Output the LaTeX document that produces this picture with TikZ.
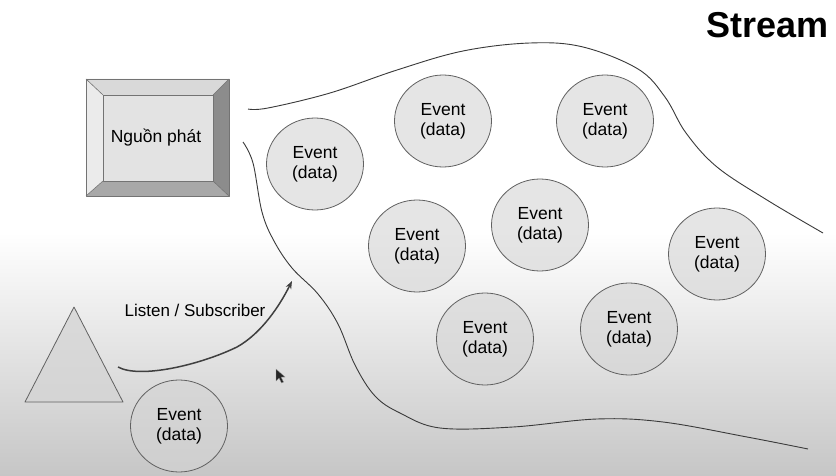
\documentclass[tikz,border=0pt]{standalone}
\usepackage{fontspec}
\setmainfont{Liberation Sans}
\usetikzlibrary{shapes.geometric,arrows.meta}
\definecolor{evfill}{HTML}{D4D4D4}
\definecolor{bgbot}{HTML}{C6C6C6}
\definecolor{bvtop}{HTML}{D9D9D9}
\definecolor{bvleft}{HTML}{EBEBEB}
\definecolor{bvright}{HTML}{8C8C8C}
\definecolor{bvbot}{HTML}{A8A8A8}
\definecolor{bvface}{HTML}{E3E3E3}
\definecolor{lnc}{HTML}{3A3A3A}
\begin{document}
\begin{tikzpicture}[x=1pt,y=-1pt,
  ev/.style={ellipse, draw=black!62, line width=0.8pt, fill=evfill, fill opacity=0.6, text opacity=1,
    minimum width=97pt, minimum height=92pt, inner sep=0pt, align=center,
    font=\fontsize{17.5}{20}\selectfont},
  bevel/.style={draw=black!55, line width=0.6pt, line join=round},
  border/.style={draw=lnc, line width=0.9pt},
  subarrow/.style={draw=black!75, line width=1.5pt, -{Stealth[length=8pt,width=6pt]}},
  lbl/.style={font=\fontsize{17}{19}\selectfont, inner sep=0pt}
]
\useasboundingbox (0,0) rectangle (836,476);
% background
\fill[white] (0,0) rectangle (836,476);
\shade[top color=white, bottom color=bgbot] (0,232) rectangle (836,476);

% title
\node[font=\fontsize{36}{40}\bfseries\selectfont, anchor=east, inner sep=0pt] (title) at (829,25) {Stream};

% stream boundaries
\draw[border] plot[smooth, tension=0.6] coordinates {(248,109) (268,108) (330,93) (397,70) (463,51) (530,43) (583,47) (638,69) (665,97) (686,133) (717,167) (767,200) (823,233)};
\draw[border] plot[smooth, tension=0.6] coordinates {(243,142) (253,163) (262,212) (274,241) (292,268) (318,294) (338,324) (355,365) (375,396) (400,413) (440,428) (513,427) (597,419) (663,422) (747,437) (808,449)};

% source box (bevel)
\coordinate (o1) at (86,79);  \coordinate (o2) at (229,79);
\coordinate (o3) at (229,196); \coordinate (o4) at (86,196);
\coordinate (i1) at (103,95); \coordinate (i2) at (213,95);
\coordinate (i3) at (213,181); \coordinate (i4) at (103,181);
\fill[bvtop] (o1) -- (o2) -- (i2) -- (i1) -- cycle;
\fill[bvright] (o2) -- (o3) -- (i3) -- (i2) -- cycle;
\fill[bvbot] (o3) -- (o4) -- (i4) -- (i3) -- cycle;
\fill[bvleft] (o4) -- (o1) -- (i1) -- (i4) -- cycle;
\fill[bvface] (i1) rectangle (i3);
\draw[bevel] (o1) rectangle (o3);
\draw[bevel] (i1) rectangle (i3);
\draw[bevel] (o1) -- (i1) (o2) -- (i2) (o3) -- (i3) (o4) -- (i4);
\node[lbl, font=\fontsize{17.5}{19}\selectfont] (src) at (156,138) {Nguồn phát};

% subscriber triangle
\fill[evfill, fill opacity=0.75] (74,307) -- (123,402) -- (25,402) -- cycle;
\draw[draw=black!62, line width=0.8pt, line join=round] (74,307) -- (123,402) -- (25,402) -- cycle;
\coordinate (subs) at (118,367);
\coordinate (subend) at (292,281);
\draw[subarrow] (subs) .. controls (140,379) and (200,365) .. (237,347) .. controls (262,333) and (280,305) .. (subend);
\node[lbl] (listen) at (195,310) {Listen / Subscriber};

% events
\node[ev] (e1) at (315,164) {Event\\(data)};
\node[ev] (e2) at (443,121) {Event\\(data)};
\node[ev] (e3) at (605,121) {Event\\(data)};
\node[ev] (e4) at (540,225) {Event\\(data)};
\node[ev] (e5) at (417,246) {Event\\(data)};
\node[ev] (e6) at (717,254) {Event\\(data)};
\node[ev] (e7) at (485,339) {Event\\(data)};
\node[ev] (e8) at (629,329) {Event\\(data)};
\node[ev] (e9) at (179,426) {Event\\(data)};

% mouse cursor
\fill[black!85, draw=black!40, line width=0.3pt, line join=round]
  (276,369) -- (276,381) -- (279,378) -- (281.5,383) -- (283.5,382) -- (281,377) -- (285,377) -- cycle;
\end{tikzpicture}
\end{document}
